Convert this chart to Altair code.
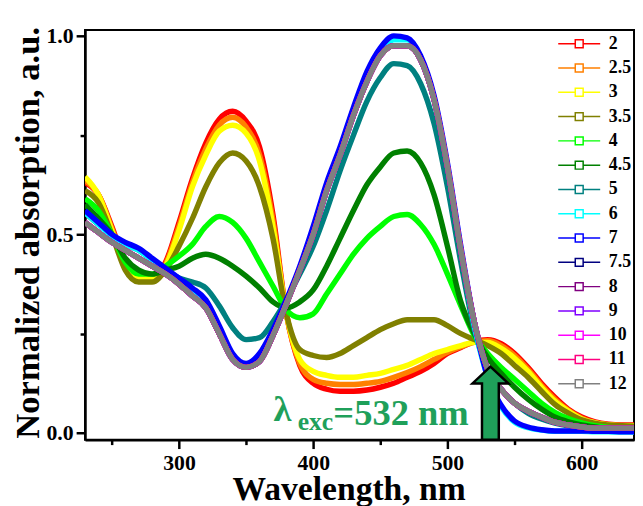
import altair as alt
import pandas as pd

# ---------------- data ----------------
wavelength = [230, 240, 250, 260, 270, 280, 290, 300, 310, 320, 330, 340, 350, 360,
              370, 380, 390, 400, 410, 420, 430, 440, 450, 460, 470, 480, 490, 500,
              510, 520, 530, 540, 550, 560, 570, 580, 590, 600, 610, 620, 630, 640]

a_2 = [.63, .60, .52, .43, .39, .39, .43, .53, .64, .73, .79, .81, .785, .72, .55, .30,
       .17, .125, .11, .105, .105, .108, .115, .125, .14, .155, .175, .20, .215, .23,
       .235, .225, .20, .165, .125, .09, .06, .04, .028, .022, .02, .02]
a_2_5 = [.635, .60, .515, .425, .39, .39, .425, .52, .63, .715, .775, .795, .77, .70,
         .535, .30, .175, .135, .125, .122, .122, .125, .13, .14, .152, .167, .185,
         .203, .217, .228, .232, .22, .195, .16, .12, .085, .057, .037, .026, .021,
         .019, .019]
a_3 = [.645, .60, .51, .42, .39, .39, .42, .51, .62, .70, .76, .775, .755, .685, .52,
       .30, .185, .155, .145, .14, .14, .145, .15, .16, .17, .185, .20, .21, .22, .228,
       .228, .213, .188, .155, .115, .08, .055, .035, .025, .02, .018, .018]
a_3_5 = [.61, .58, .50, .41, .38, .38, .41, .47, .54, .62, .68, .705, .685, .62, .49,
         .30, .21, .195, .19, .20, .22, .24, .26, .275, .285, .285, .285, .27, .25,
         .235, .22, .20, .17, .14, .105, .072, .05, .033, .024, .02, .018, .017]
a_4 = [.59, .56, .50, .43, .40, .40, .42, .445, .475, .52, .545, .53, .49, .43, .37,
       .31, .29, .30, .35, .40, .45, .49, .52, .545, .55, .525, .475, .40, .32, .245,
       .20, .165, .135, .105, .075, .052, .036, .025, .018, .014, .012, .01]
a_4_5 = [.575, .54, .50, .44, .41, .40, .41, .42, .44, .45, .44, .42, .395, .365, .33,
         .315, .33, .36, .42, .49, .56, .625, .67, .705, .71, .68, .60, .47, .33, .25,
         .19, .15, .115, .085, .06, .04, .028, .02, .015, .01, .008, .006]
a_5 = [.555, .525, .50, .475, .46, .435, .41, .39, .38, .365, .32, .265, .235, .24,
       .28, .335, .40, .47, .56, .66, .75, .835, .895, .93, .925, .88, .78, .62, .43,
       .26, .16, .11, .075, .05, .035, .025, .018, .014, .012, .011, .01, .01]
a_6 = [.555, .525, .495, .475, .46, .435, .41, .385, .36, .33, .265, .195, .17, .195,
       .255, .33, .415, .515, .62, .715, .815, .90, .96, .99, .99, .94, .84, .67, .46,
       .27, .14, .066, .027, .013, .007, .004, .004, .004, .003, .003, .002, .002]
a_7 = [.56, .53, .50, .48, .465, .44, .415, .39, .365, .335, .27, .20, .175, .20, .26,
       .335, .42, .52, .63, .72, .82, .91, .97, 1.0, .995, .95, .85, .68, .47, .28,
       .14, .07, .03, .015, .008, .005, .005, .005, .004, .004, .003, .003]
a_12 = [.53, .505, .48, .46, .44, .42, .40, .375, .345, .315, .25, .185, .165, .18,
        .245, .325, .41, .50, .61, .70, .80, .885, .95, .975, .975, .94, .84, .67,
        .46, .28, .16, .11, .075, .055, .04, .027, .02, .015, .012, .012, .012, .012]
# pH 7.5 - 11 lie under the pH 12 curve in the picture
a_7_5 = a_12
a_8 = a_12
a_9 = a_12
a_10 = a_12
a_11 = a_12

series_labels = ["2", "2.5", "3", "3.5", "4", "4.5", "5", "6", "7", "7.5",
                 "8", "9", "10", "11", "12"]
series_values = [a_2, a_2_5, a_3, a_3_5, a_4, a_4_5, a_5, a_6, a_7, a_7_5,
                 a_8, a_9, a_10, a_11, a_12]
series_colors = ["#ff0000", "#ff8000", "#ffff00", "#808000", "#00ff00", "#008000",
                 "#008080", "#00ffff", "#0000ff", "#000080", "#800080", "#8000ff",
                 "#ff00ff", "#ff0080", "#808080"]

rows = []
for k, (lab, vals) in enumerate(zip(series_labels, series_values)):
    for w, v in zip(wavelength, vals):
        rows.append({"wl": w, "A": v, "pH": lab, "k": k})
df = pd.DataFrame(rows)

# annotation
exc_wavelength = 532
ann_parts = ["λ", "exc", "=532 nm"]

FONT = "Liberation Serif, DejaVu Serif, Times New Roman, serif"
GREEN = "#1fa05a"

x_scale = alt.Scale(domain=[230, 639], nice=False, zero=False)
y_scale = alt.Scale(domain=[-0.017, 1.015], nice=False, zero=False)

legend_symbol = "M-2.5,0H-0.47M0.47,0H2.5M-0.47,-0.47H0.47V0.47H-0.47Z"

x_axis = alt.Axis(
    values=[250, 300, 350, 400, 450, 500, 550, 600],
    labelExpr="datum.value % 100 === 0 ? datum.label : ''",
    tickSize={"condition": {"test": "datum.value % 100 === 0", "value": 9}, "value": 5},
    labelPadding=4,
    title="Wavelength, nm",
    titleX=267, titleY=61, titleAlign="center", titleBaseline="alphabetic",
    titleFontSize=34,
)
y_axis = alt.Axis(
    values=[0, 0.25, 0.5, 0.75, 1.0],
    format=".1f",
    labelExpr="round(datum.value * 4) % 2 === 0 ? datum.label : ''",
    tickSize={"condition": {"test": "round(datum.value * 4) % 2 === 0", "value": 9}, "value": 5},
    labelPadding=3,
    title="Normalized absorption, a.u.",
    titleAngle=270, titleX=-47, titleY=205, titleAlign="center",
    titleBaseline="alphabetic", titleFontSize=35,
)

lines = alt.Chart(df).mark_line(
    strokeWidth=5.5, interpolate="monotone", clip=True, strokeJoin="round"
).encode(
    x=alt.X("wl:Q", scale=x_scale, axis=x_axis),
    y=alt.Y("A:Q", scale=y_scale, axis=y_axis),
    color=alt.Color(
        "pH:N",
        scale=alt.Scale(domain=series_labels, range=series_colors),
        sort=series_labels,
        legend=alt.Legend(
            title=None, orient="none", legendX=491, legendY=4.5,
            symbolType=legend_symbol, symbolSize=289, symbolStrokeWidth=1.5,
            symbolFillColor="white", symbolOpacity=1,
            labelFont=FONT, labelFontSize=18, labelFontWeight="bold",
            labelColor="black", labelOffset=20.5, rowPadding=5.6, padding=0,
        ),
    ),
    order=alt.Order("k:Q"),
)

arrow_shape = "M0,-1L0.49,-0.54L0.23,-0.54L0.23,1L-0.23,1L-0.23,-0.54L-0.49,-0.54Z"
arrow = alt.Chart(pd.DataFrame({"wl": [exc_wavelength], "A": [0.075]})).mark_point(
    shape=arrow_shape, size=5476, filled=True, fill=GREEN, stroke="black",
    strokeWidth=2.5, opacity=1, clip=False
).encode(x=alt.X("wl:Q", scale=x_scale), y=alt.Y("A:Q", scale=y_scale))

def label(text, wl, a, size):
    return alt.Chart(pd.DataFrame({"wl": [wl], "A": [a], "t": [text]})).mark_text(
        align="left", baseline="alphabetic", font=FONT, fontWeight="bold",
        fontSize=size, color=GREEN
    ).encode(x=alt.X("wl:Q", scale=x_scale), y=alt.Y("A:Q", scale=y_scale), text="t:N")

t1 = label(ann_parts[0], 370.5, 0.030, 37)
t2 = label(ann_parts[1], 388.4, 0.0075, 26)
t3 = label(ann_parts[2], 415.0, 0.020, 37)

chart = alt.layer(lines, arrow, t1, t2, t3).properties(
    width=556, height=415,
    autosize=alt.AutoSizeParams(type="none"),
    padding={"left": 78, "top": 19, "right": 1, "bottom": 64},
).configure_view(
    stroke="black", strokeWidth=2
).configure_axis(
    grid=False, domainColor="black", domainWidth=2.5, tickColor="black",
    tickWidth=2.5, labelFont=FONT, labelFontWeight="bold", labelFontSize=22,
    labelColor="black", titleFont=FONT, titleFontWeight="bold", titleColor="black",
)

chart.save("out.html", embed_options={"renderer": "svg", "actions": False})
